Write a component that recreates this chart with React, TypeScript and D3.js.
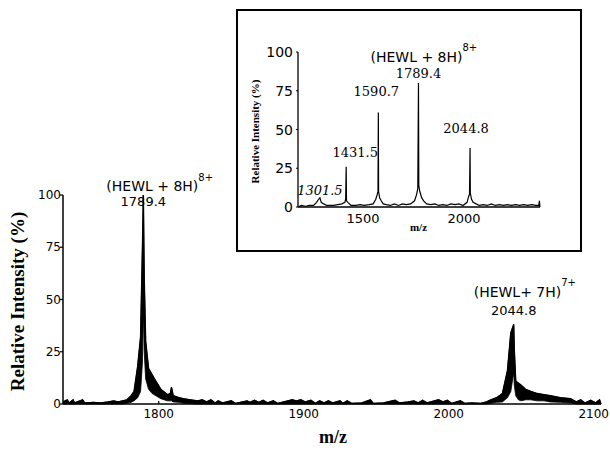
import React from "react";
import * as d3 from "d3";

// main spectrum: m/z with upper and lower edge of the noisy trace (% intensity)
const mainMz = [1734, 1737, 1738, 1741, 1742, 1747.5, 1749, 1755, 1760, 1765, 1769, 1772, 1775, 1778, 1781, 1783, 1785.5, 1787.5, 1788.8, 1789.4, 1790, 1791, 1793, 1795.5, 1798, 1801.5, 1806, 1808, 1808.8, 1810, 1814, 1817, 1822, 1827, 1830, 1833, 1836, 1839, 1841, 1844, 1850, 1853, 1861, 1863, 1866, 1869, 1872, 1875, 1879, 1882, 1889, 1892, 1895, 1898, 1901, 1905, 1908, 1911, 1914, 1917, 1920, 1925, 1927, 1930, 1933, 1940, 1946, 1948, 1955, 1963, 1966, 1972, 1976, 1979, 1982, 1985, 1990, 1993, 1996, 1999, 2002, 2008, 2011, 2016, 2022, 2026, 2029, 2033, 2037, 2040.5, 2042.8, 2044.8, 2045.2, 2046.2, 2048, 2050, 2053, 2056.6, 2061, 2065.7, 2070, 2077, 2084, 2088, 2091, 2094, 2098, 2101, 2104, 2105];
const mainHi = [1, 2, 0.5, 2, 0.5, 2, 0.5, 0.8, 0.5, 1, 1.5, 1, 1.5, 2, 4, 6, 18, 32, 75, 100, 60, 30, 17, 14, 11, 7, 4.5, 5, 8, 4, 3, 2.5, 2, 1.5, 2, 1, 2, 0.5, 1.5, 0.5, 1.5, 0.3, 1.5, 0.8, 1.8, 0.8, 1.8, 0.5, 1.5, 0.3, 1.5, 2, 1.5, 2, 1, 1.8, 0.3, 1.5, 0.5, 1.5, 0.5, 1.5, 0.3, 1.5, 0.3, 0.5, 2, 0.3, 0.5, 1.8, 0.5, 1, 1.5, 0.5, 1.8, 0.5, 1.5, 2, 1, 1.8, 0.3, 1.5, 0.3, 0.5, 0.3, 1, 2, 3, 5, 16, 34, 38, 26, 11, 10, 9, 7, 6, 5, 4.5, 4, 3, 2.5, 1, 2, 0.5, 1.8, 0.5, 2, 0];
const mainLo = [0, 0, 0, 0, 0, 0, 0, 0, 0, 0, 0, 0, 0, 0.3, 0.8, 1.5, 3, 6, 20, 45, 25, 12, 7, 5, 4, 2.5, 1.5, 1.5, 1.5, 1, 0.8, 0.3, 0.2, 0, 0, 0, 0, 0, 0, 0, 0, 0, 0, 0, 0, 0, 0, 0, 0, 0, 0, 0, 0, 0, 0, 0, 0, 0, 0, 0, 0, 0, 0, 0, 0, 0, 0, 0, 0, 0, 0, 0, 0, 0, 0, 0, 0, 0, 0, 0, 0, 0, 0, 0, 0, 0, 0.3, 0.8, 1, 3, 6, 15, 9, 4, 2, 1.5, 2, 2, 1.5, 1.5, 1, 0.8, 0.5, 0, 0, 0, 0, 0, 0, 0];

const mainXTicks = [1800, 1900, 2000, 2100];
const mainYTicks = [0, 25, 50, 75, 100];

// inset spectrum (wide m/z range)
const insetMz = [1193, 1210, 1230, 1250, 1270, 1285, 1295, 1301.5, 1308, 1320, 1335, 1350, 1370, 1390, 1410, 1425, 1429, 1431.5, 1433, 1440, 1455, 1480, 1500, 1520, 1545, 1565, 1578, 1585, 1589, 1590.7, 1592, 1597, 1605, 1615, 1630, 1650, 1670, 1690, 1710, 1730, 1750, 1770, 1780, 1786, 1789.4, 1791, 1796, 1805, 1815, 1830, 1850, 1870, 1890, 1910, 1930, 1950, 1970, 1990, 2010, 2030, 2038, 2042, 2044.8, 2046, 2052, 2060, 2075, 2090, 2110, 2130, 2150, 2170, 2190, 2210, 2230, 2250, 2270, 2290, 2310, 2330, 2350, 2370, 2385, 2388, 2391];
const insetInt = [0, 1, 0.5, 1, 1, 3, 5, 6, 3, 2, 1, 1, 1, 1.5, 2, 3, 5, 26, 4, 3, 1, 1, 1.5, 1, 1.5, 2, 5, 8, 10, 61, 10, 6, 4, 2, 1.5, 1, 2, 1, 2, 1.5, 2, 4, 8, 12, 80, 14, 10, 6, 4, 2, 1.5, 2, 1, 1.5, 1, 2, 1.5, 2, 1, 3, 7, 8, 38, 9, 5, 3, 2, 1, 1.5, 1, 2, 1, 1.5, 1, 1.5, 1, 1.5, 1, 1.5, 1, 1.5, 1, 1, 4, 0];
const insetXTicks = [1500, 2000];
const insetYTicks = [0, 25, 50, 75, 100];
const insetPeaks = [
  { mz: 1301.5, label: "1301.5" },
  { mz: 1431.5, label: "1431.5" },
  { mz: 1590.7, label: "1590.7" },
  { mz: 1789.4, label: "1789.4" },
  { mz: 2044.8, label: "2044.8" },
];

const sans = "'DejaVu Sans', Arial, sans-serif";
const serif = "'Liberation Serif', 'Times New Roman', serif";
const serifNum = "'DejaVu Serif', serif";

export default function App() {
  const width = 610;
  const height = 450;

  // main chart scales
  const x = d3.scaleLinear().domain([1734, 2105]).range([63, 601]);
  const y = d3.scaleLinear().domain([0, 100]).range([404, 195]);

  const mainPts = mainMz.map((m, i) => ({ m, hi: mainHi[i], lo: mainLo[i] }));
  const band = d3
    .area<{ m: number; hi: number; lo: number }>()
    .x((d) => x(d.m))
    .y0((d) => y(d.lo))
    .y1((d) => y(d.hi));
  const hiLine = d3
    .line<{ m: number; hi: number; lo: number }>()
    .x((d) => x(d.m))
    .y((d) => y(d.hi));

  // inset scales
  const ix = d3.scaleLinear().domain([1193, 2391]).range([298, 540]);
  const iy = d3.scaleLinear().domain([0, 100]).range([207, 52]);
  const insetLine = d3
    .line<number>()
    .x((_, i) => ix(insetMz[i]))
    .y((d) => iy(d));

  const labelPos: Record<string, { dx: number; dy: number; italic?: boolean }> = {
    "1301.5": { dx: 0, dy: -3, italic: true },
    "1431.5": { dx: 9, dy: -10 },
    "1590.7": { dx: -2, dy: -16 },
    "1789.4": { dx: 0, dy: -5 },
    "2044.8": { dx: -4, dy: -15 },
  };

  return (
    <svg width={width} height={height} style={{ position: "absolute", left: 0, top: 0 }}>
      <rect width={width} height={height} fill="#fff" />

      {/* main spectrum */}
      <path d={band(mainPts) ?? ""} fill="#000" stroke="#000" strokeWidth={0.8} />
      <path d={hiLine(mainPts) ?? ""} fill="none" stroke="#000" strokeWidth={1.4} />

      {/* main axes */}
      <line x1={x(1734)} x2={x(2105)} y1={y(0)} y2={y(0)} stroke="#000" strokeWidth={1.5} />
      <line x1={x(1734)} x2={x(1734)} y1={y(0)} y2={y(100)} stroke="#000" strokeWidth={1.5} />
      {mainYTicks.map((t) => (
        <g key={t}>
          <line x1={x(1734)} x2={x(1734) - 3} y1={y(t)} y2={y(t)} stroke="#000" strokeWidth={1.2} />
          <text x={x(1734) - 2} y={y(t) + 4} textAnchor="end" fontFamily={sans} fontSize={12}>
            {t}
          </text>
        </g>
      ))}
      {mainXTicks.map((t) => (
        <g key={t}>
          <line x1={x(t)} x2={x(t)} y1={y(0)} y2={y(0) - 3} stroke="#000" strokeWidth={1.2} />
          <text x={x(t)} y={y(0) + 14} textAnchor="middle" fontFamily={sans} fontSize={12}>
            {t}
          </text>
        </g>
      ))}
      <text
        transform={`translate(24,${(y(0) + y(100)) / 2 + 2}) rotate(-90)`}
        textAnchor="middle"
        fontFamily={serif}
        fontWeight="bold"
        fontSize={19}
      >
        Relative Intensity (%)
      </text>
      <text x={333} y={443} textAnchor="middle" fontFamily={serif} fontWeight="bold" fontSize={18}>
        m/z
      </text>

      {/* main annotations */}
      <text x={x(1789.4) - 37} y={191} fontFamily={sans} fontSize={14}>
        (HEWL + 8H)
        <tspan dy={-10} fontSize={10}>8+</tspan>
      </text>
      <text x={x(1789.4)} y={206} textAnchor="middle" fontFamily={sans} fontSize={13}>
        1789.4
      </text>
      <text x={x(2044.8) - 40} y={297} fontFamily={sans} fontSize={14}>
        (HEWL+ 7H)
        <tspan dy={-11} fontSize={10}>7+</tspan>
      </text>
      <text x={x(2044.8)} y={315} textAnchor="middle" fontFamily={sans} fontSize={13}>
        2044.8
      </text>

      {/* inset */}
      <rect x={237} y={10} width={344} height={241} fill="#fff" stroke="#000" strokeWidth={2} />
      <path d={insetLine(insetInt) ?? ""} fill="none" stroke="#000" strokeWidth={1.2} />
      <line x1={ix(1193)} x2={ix(2391)} y1={iy(0)} y2={iy(0)} stroke="#000" strokeWidth={1.3} />
      <line x1={ix(1193)} x2={ix(1193)} y1={iy(0)} y2={iy(100)} stroke="#000" strokeWidth={1.3} />
      {insetYTicks.map((t) => (
        <g key={t}>
          <line x1={ix(1193)} x2={ix(1193) - 2} y1={iy(t)} y2={iy(t)} stroke="#000" strokeWidth={1} />
          <text x={ix(1193) - 5} y={iy(t) + 5} textAnchor="end" fontFamily={sans} fontSize={14}>
            {t}
          </text>
        </g>
      ))}
      {insetXTicks.map((t) => (
        <text key={t} x={ix(t) + 3} y={iy(0) + 16} textAnchor="middle" fontFamily={sans} fontSize={13}>
          {t}
        </text>
      ))}
      <text
        transform={`translate(259,${(iy(0) + iy(100)) / 2 + 2}) rotate(-90)`}
        textAnchor="middle"
        fontFamily={serif}
        fontWeight="bold"
        fontSize={11}
      >
        Relative Intensity (%)
      </text>
      <text x={ix(1789.4)} y={231} textAnchor="middle" fontFamily={serif} fontWeight="bold" fontSize={11}>
        m/z
      </text>
      {insetPeaks.map((p) => {
        const i = insetMz.indexOf(p.mz);
        const pos = labelPos[p.label];
        return (
          <text
            key={p.label}
            x={ix(p.mz) + pos.dx}
            y={iy(insetInt[i]) + pos.dy}
            textAnchor="middle"
            fontFamily={serifNum}
            fontStyle={pos.italic ? "italic" : "normal"}
            fontSize={13}
          >
            {p.label}
          </text>
        );
      })}
      <text x={ix(1789.4) - 48} y={iy(80) - 21} fontFamily={sans} fontSize={14}>
        (HEWL + 8H)
        <tspan dy={-11} fontSize={10}>8+</tspan>
      </text>
    </svg>
  );
}
